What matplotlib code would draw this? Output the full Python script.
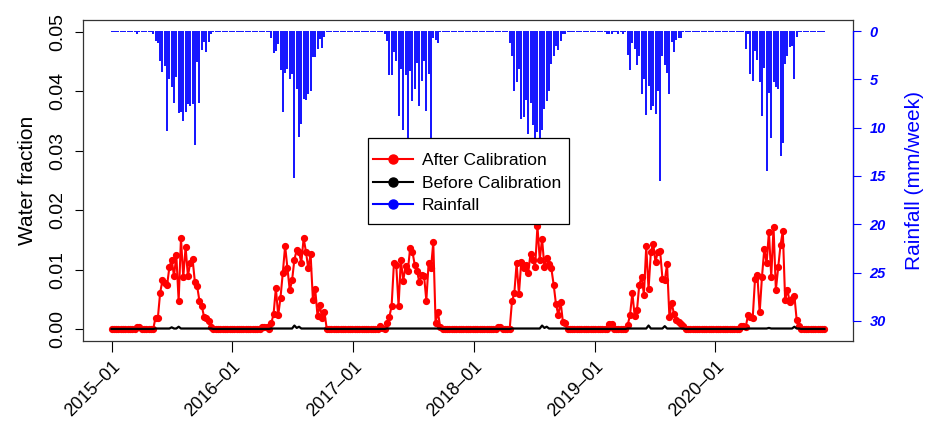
import numpy as np
import pandas as pd
import matplotlib
matplotlib.use("Agg")
import matplotlib.pyplot as plt
import matplotlib.dates as mdates
from matplotlib.lines import Line2D
from matplotlib.patches import Rectangle

plt.rcParams['font.family'] = ['Liberation Sans', 'DejaVu Sans']

# ---------------- data ----------------
start_date = "2015-01-01"
n_weeks = 309

tick_dates = ["2015-01-01", "2016-01-01", "2017-01-01", "2018-01-01", "2019-01-01", "2020-01-01"]
tick_labels = ["2015\u201301", "2016\u201301", "2017\u201301", "2018\u201301", "2019\u201301", "2020\u201301"]

# After calibration (water fraction), wet-season segments: start week index -> weekly values
after_start_weeks = [19, 69, 119, 173, 223, 275]
after_2015 = [0.0019, 0.0018, 0.0061, 0.0082, 0.0078, 0.0074, 0.0104, 0.0117, 0.0089, 0.0124, 0.0047,
              0.0153, 0.0087, 0.0138, 0.0089, 0.0112, 0.0118, 0.0080, 0.0072, 0.0047, 0.0039, 0.0020,
              0.0018, 0.0014, 0.0003]
after_2016 = [0.0010, 0.0025, 0.0069, 0.0023, 0.0053, 0.0095, 0.0140, 0.0102, 0.0065, 0.0082, 0.0117,
              0.0133, 0.0129, 0.0112, 0.0153, 0.0130, 0.0102, 0.0126, 0.0049, 0.0067, 0.0022, 0.0040,
              0.0018, 0.0028]
after_2017 = [0.0011, 0.0020, 0.0039, 0.0111, 0.0108, 0.0039, 0.0117, 0.0081, 0.0106, 0.0098, 0.0136,
              0.0130, 0.0108, 0.0097, 0.0079, 0.0091, 0.0090, 0.0048, 0.0112, 0.0102, 0.0146, 0.0011,
              0.0029, 0.0003]
after_2018 = [0.0047, 0.0060, 0.0111, 0.0059, 0.0113, 0.0102, 0.0108, 0.0094, 0.0127, 0.0117, 0.0104,
              0.0173, 0.0117, 0.0152, 0.0104, 0.0120, 0.0110, 0.0102, 0.0075, 0.0042, 0.0024, 0.0046,
              0.0012, 0.0010]
after_2019 = [0.0007, 0.0024, 0.0061, 0.0022, 0.0032, 0.0075, 0.0088, 0.0058, 0.0139, 0.0067, 0.0130,
              0.0144, 0.0113, 0.0130, 0.0131, 0.0085, 0.0082, 0.0109, 0.0021, 0.0044, 0.0025, 0.0015,
              0.0012, 0.0008, 0.0005]
after_2020 = [0.0024, 0.0020, 0.0019, 0.0085, 0.0091, 0.0028, 0.0088, 0.0135, 0.0111, 0.0164, 0.0088,
              0.0171, 0.0066, 0.0104, 0.0141, 0.0165, 0.0049, 0.0066, 0.0045, 0.0050, 0.0056, 0.0015,
              0.0005]
# small dry-season blips of the after-calibration series
after_blip_weeks = [11, 12, 65, 66, 67, 116, 117, 167, 168, 215, 216, 272, 273, 274]
after_blip_values = [0.0003, 0.0004, 0.0003, 0.0003, 0.0003, 0.0005, 0.0002, 0.0003, 0.0003,
                     0.0008, 0.0008, 0.0005, 0.0005, 0.0004]

# Before calibration
before_base = 0.00003
before_wet = 0.0001
before_spike_weeks = [26, 29, 79, 80, 81, 186, 187, 188, 232, 239, 284, 295]
before_spike_values = [0.0003, 0.0004, 0.0006, 0.0002, 0.0004, 0.0006, 0.0002, 0.0004,
                       0.0006, 0.0005, 0.0002, 0.0004]

# Rainfall (mm/week)
rain_base = 0.1
rain_start_weeks = [18, 69, 118, 172, 223, 274]
rain_2015 = [0.3, 1.0, 1.2, 3.1, 4.2, 3.6, 10.3, 5.0, 5.8, 7.4, 4.8, 8.5, 8.4, 9.3, 8.4, 7.6, 7.8,
             7.6, 11.8, 3.2, 7.5, 2.0, 1.1, 2.2, 1.1, 0.3]
rain_2016 = [0.7, 2.3, 2.1, 1.35, 4.0, 8.4, 4.3, 3.9, 5.0, 4.4, 15.2, 6.0, 11.0, 9.6, 7.0, 7.1, 6.5,
             6.2, 2.7, 2.7, 1.9, 0.8, 1.8, 0.6]
rain_2017 = [0.3, 1.0, 4.6, 4.6, 2.2, 3.1, 8.8, 3.9, 10.2, 4.6, 12.0, 4.1, 7.2, 6.0, 3.3, 7.8, 5.2,
             3.1, 8.3, 4.5, 11.5, 0.7, 0.9, 1.2]
rain_2018 = [1.2, 2.6, 6.2, 5.3, 3.9, 9.1, 8.9, 7.1, 10.7, 7.4, 9.7, 12.0, 10.5, 11.5, 10.2, 8.1, 7.2,
             6.2, 3.4, 2.6, 1.5, 2.0, 1.0, 0.3, 0.3]
rain_2019 = [2.5, 4.0, 1.25, 1.9, 3.5, 2.6, 6.5, 5.0, 8.7, 5.7, 8.2, 7.8, 8.6, 6.2, 15.5, 2.6, 3.5,
             4.3, 6.5, 1.1, 2.2, 0.9, 0.7, 0.7]
rain_2020 = [1.9, 0.3, 4.4, 5.2, 2.1, 3.0, 5.3, 8.8, 3.8, 14.5, 6.4, 11.1, 5.3, 5.8, 6.0, 12.9, 11.6,
             3.4, 2.6, 1.7, 1.5, 5.0, 0.6]
rain_blip_weeks = [11, 214, 215, 216, 219, 221]
rain_blip_values = [0.3, 0.3, 0.3, 0.3, 0.3, 0.3]

legend_labels = ["After Calibration", "Before Calibration", "Rainfall"]

# ---------------- build series ----------------
dates = pd.date_range(start_date, periods=n_weeks, freq="7D")
x = mdates.date2num(dates.to_pydatetime())

after_segs = [after_2015, after_2016, after_2017, after_2018, after_2019, after_2020]
after = np.zeros(n_weeks)
for w, v in zip(after_blip_weeks, after_blip_values):
    after[w] = v
for s, seg in zip(after_start_weeks, after_segs):
    after[s:s + len(seg)] = seg

before = np.full(n_weeks, before_base)
for s, seg in zip(after_start_weeks, after_segs):
    before[s:s + len(seg)] = before_wet
for w, v in zip(before_spike_weeks, before_spike_values):
    before[w] = v

rain = np.full(n_weeks, rain_base)
for w, v in zip(rain_blip_weeks, rain_blip_values):
    rain[w] = v
for s, seg in zip(rain_start_weeks, [rain_2015, rain_2016, rain_2017, rain_2018, rain_2019, rain_2020]):
    rain[s:s + len(seg)] = seg

# ---------------- figure ----------------
W, H = 927, 421
fig = plt.figure(figsize=(W / 100, H / 100), dpi=100)
ax = fig.add_axes([83 / W, 1 - 341 / H, (853 - 83) / W, (341 - 20) / H])

ax.plot(x, after, color='red', lw=1.5, marker='o', ms=4.2, zorder=3)
ax.plot(x, before, color='black', lw=1.6, zorder=4)

span = x[-1] - x[0]
ax.set_xlim(x[0] - 0.04 * span, x[-1] + 0.04 * span)
ax.set_ylim(-0.002, 0.052)
ax.set_yticks([0.00, 0.01, 0.02, 0.03, 0.04, 0.05])
ax.set_yticklabels(["0.00", "0.01", "0.02", "0.03", "0.04", "0.05"], rotation=90, va='center')
ax.tick_params(axis='y', length=6, width=0.8, labelsize=14, pad=6)
tick_x = mdates.date2num(pd.to_datetime(tick_dates).to_pydatetime())
ax.set_xticks(tick_x)
ax.set_xticklabels(tick_labels, rotation=45, ha='right', va='top', rotation_mode='anchor')
ax.tick_params(axis='x', length=8, width=0.8, labelsize=13, pad=4)
ax.set_ylabel("Water fraction", fontsize=15, labelpad=9)
for sp in ax.spines.values():
    sp.set_color('#333333')
    sp.set_linewidth(0.9)

ax2 = ax.twinx()
ax2.vlines(x, 0, rain, color='blue', lw=1.3)
ax2.set_ylim(32.08, -1.14)
ax2.set_xlim(ax.get_xlim())
ax2.set_yticks([0, 5, 10, 15, 20, 25, 30])
ax2.tick_params(axis='y', colors='blue', length=6, width=0.8, labelsize=10.5, pad=6)
for lab in ax2.get_yticklabels():
    lab.set_fontweight('bold')
    lab.set_fontstyle('italic')
for name in ['left', 'top', 'bottom']:
    ax2.spines[name].set_visible(False)
ax2.spines['right'].set_bounds(0, 30)
ax2.spines['right'].set_color('blue')
ax2.spines['right'].set_linewidth(0.9)
ax2.set_ylabel("Rainfall (mm/week)", color='blue', fontsize=15, labelpad=14)

# legend box drawn above both axes
fig.patches.append(Rectangle((368 / W, 1 - 224 / H), (569 - 368) / W, (224 - 138) / H,
                             transform=fig.transFigure, facecolor='white', edgecolor='black',
                             lw=0.9, zorder=4))
fs_leg = 12.5
fs_px = fs_leg * 100 / 72
handles = [Line2D([], [], color='red', lw=1.5, marker='o', ms=6.5),
           Line2D([], [], color='black', lw=1.5, marker='o', ms=6.5),
           Line2D([], [], color='blue', lw=1.5, marker='o', ms=6.5)]
leg = fig.legend(handles, legend_labels, loc='upper left',
                 bbox_to_anchor=(373 / W, 1 - 153 / H), bbox_transform=fig.transFigure,
                 borderaxespad=0, borderpad=0, frameon=False, fontsize=fs_leg,
                 handlelength=40 / fs_px, handletextpad=9 / fs_px, labelspacing=0.42)
leg.set_zorder(5)

fig.savefig("out.png", dpi=100)
